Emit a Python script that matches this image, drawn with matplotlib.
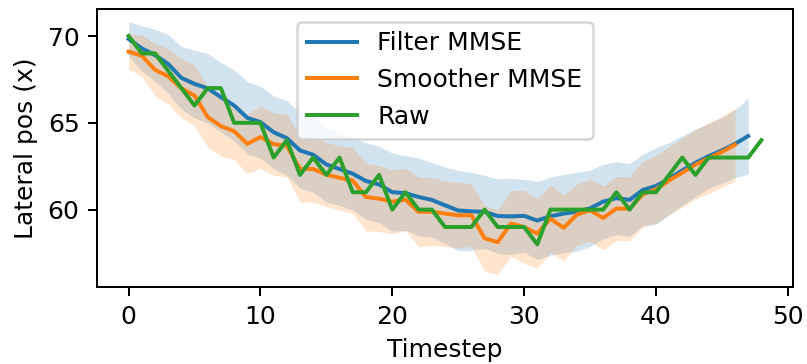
import matplotlib
matplotlib.use("Agg")
import matplotlib.pyplot as plt
import numpy as np

# Filter MMSE estimate (t = 0..47)
filter_mean = [69.83, 69.29, 68.90, 68.39, 67.59, 67.24, 66.99, 66.48, 66.00, 65.29,
               65.04, 64.46, 64.12, 63.41, 63.16, 62.60, 62.34, 62.07, 61.65, 61.45,
               61.00, 60.95, 60.73, 60.56, 60.25, 59.95, 59.90, 59.87, 59.63, 59.61,
               59.64, 59.37, 59.62, 59.77, 59.88, 60.07, 60.46, 60.66, 60.56, 61.13,
               61.36, 61.78, 62.26, 62.70, 63.08, 63.41, 63.79, 64.24]
filter_std = [1.00, 1.30, 1.50, 1.70, 1.80, 1.95, 2.00, 2.00, 2.05, 2.08,
              2.06, 2.10, 2.15, 2.18, 2.17, 2.15, 2.10, 2.10, 2.20, 2.20,
              2.25, 2.15, 2.25, 2.15, 2.20, 2.30, 2.25, 2.10, 2.15, 2.20,
              2.10, 2.25, 2.25, 2.25, 2.28, 2.20, 2.15, 2.10, 2.10, 2.05,
              2.20, 2.10, 2.00, 1.95, 1.85, 1.90, 1.95, 2.20]

# Smoother MMSE estimate (t = 0..46)
smoother_mean = [69.10, 68.87, 68.05, 67.68, 66.99, 66.57, 65.33, 64.81, 64.52, 63.79,
                 64.18, 63.77, 63.68, 62.34, 62.34, 62.02, 61.83, 61.68, 60.73, 60.63,
                 60.46, 60.58, 59.87, 59.88, 59.77, 59.67, 59.68, 58.35, 58.12, 59.20,
                 59.00, 58.62, 59.48, 58.95, 59.71, 59.96, 59.52, 60.06, 60.06, 60.88,
                 61.17, 61.68, 62.13, 62.59, 62.97, 63.32, 63.74]
smoother_std = [1.00, 1.20, 1.50, 1.60, 1.70, 1.75, 1.75, 1.72, 1.65, 1.72,
                1.80, 1.80, 1.80, 1.90, 1.90, 1.85, 1.85, 1.90, 1.95, 1.90,
                1.85, 1.80, 2.00, 1.95, 1.90, 1.90, 1.80, 1.90, 1.85, 1.90,
                2.10, 2.00, 1.95, 1.90, 1.75, 1.80, 1.85, 1.85, 1.85, 1.90,
                1.95, 1.95, 2.00, 2.00, 2.05, 2.05, 2.10]

# Raw measurements (t = 0..48)
raw = [70, 69, 69, 68, 67, 66, 67, 67, 65, 65,
       65, 63, 64, 62, 63, 62, 63, 61, 61, 62,
       60, 61, 60, 60, 59, 59, 59, 60, 59, 59,
       59, 58, 60, 60, 60, 60, 60, 61, 60, 61,
       61, 62, 63, 62, 63, 63, 63, 63, 64]

fm = np.array(filter_mean); fs = np.array(filter_std)
sm = np.array(smoother_mean); ss = np.array(smoother_std)
tf = np.arange(len(fm)); ts = np.arange(len(sm)); tr = np.arange(len(raw))

DPI = 180
fig = plt.figure(figsize=(807 / DPI, 364 / DPI), dpi=DPI)
ax = fig.add_axes([97 / 807, 1 - 287 / 364, (793 - 97) / 807, (287 - 9) / 364])

ax.plot(tf, fm, color="C0", label="Filter MMSE", linewidth=1.6)
ax.fill_between(tf, fm - fs, fm + fs, color="C0", alpha=0.2, linewidth=0)
ax.plot(ts, sm, color="C1", label="Smoother MMSE", linewidth=1.6)
ax.fill_between(ts, sm - ss, sm + ss, color="C1", alpha=0.2, linewidth=0)
ax.plot(tr, raw, color="C2", label="Raw", linewidth=1.6)

ax.set_xticks([0, 10, 20, 30, 40, 50])
ax.set_yticks([60, 65, 70])
ax.set_xlabel("Timestep")
ax.set_ylabel("Lateral pos (x)")
ax.legend(loc="upper center")

fig.savefig("out.png", dpi=DPI)
